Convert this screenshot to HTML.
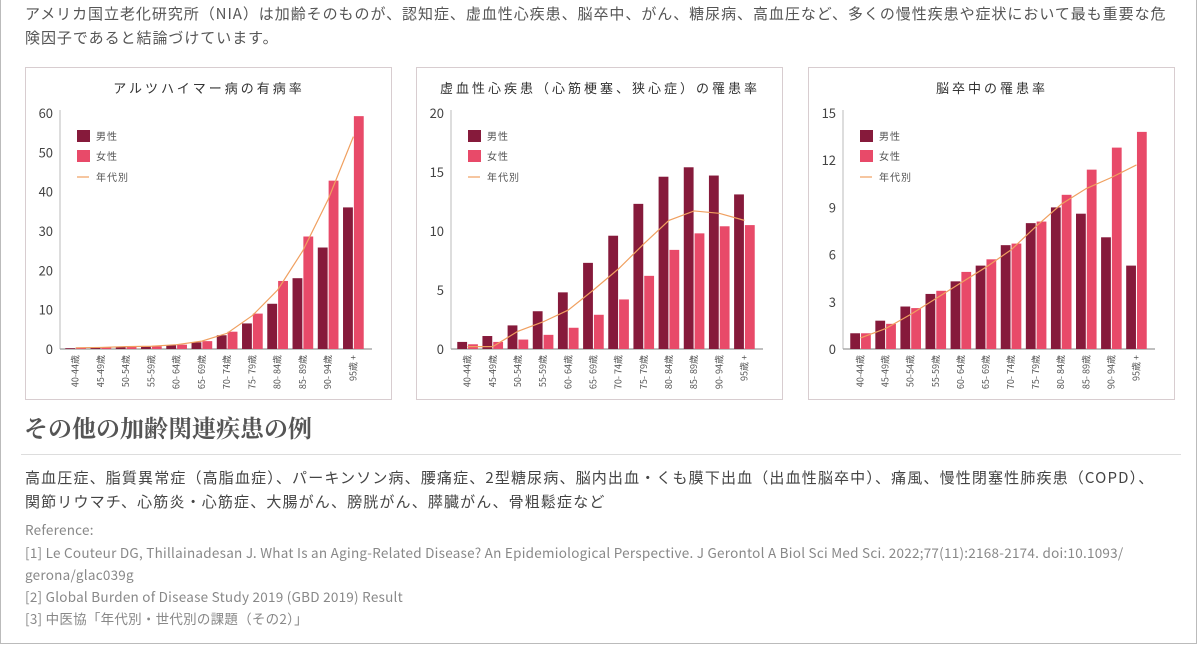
<!DOCTYPE html>
<html><head><meta charset="utf-8"><style>
body{margin:0;width:1200px;height:647px;background:#fff;font-family:"Noto Sans CJK JP","Liberation Sans",sans-serif;color:#444;position:relative;overflow:hidden}
.frame{position:absolute;left:0;top:-2px;width:1197px;height:646px;border:1px solid #bbb;box-sizing:border-box}
.t{position:absolute;left:25px;font-size:15px;line-height:20px;color:#555;white-space:nowrap;letter-spacing:0.95px}
.panel{position:absolute;top:67px;width:367px;height:333px;border:1px solid #d8cdd0;box-sizing:border-box}
.ref{position:absolute;left:25px;font-size:13.5px;line-height:18px;color:#888;white-space:nowrap;letter-spacing:0.25px}
svg text{font-family:"Noto Sans CJK JP","Liberation Sans",sans-serif}
</style></head><body>
<div class="frame"></div>
<div class="t" style="top:4px">アメリカ国立老化研究所（NIA）は加齢そのものが、認知症、虚血性心疾患、脳卒中、がん、糖尿病、高血圧など、多くの慢性疾患や症状において最も重要な危</div>
<div class="t" style="top:28px">険因子であると結論づけています。</div>
<div class="panel" style="left:25px"></div>
<div class="panel" style="left:416px"></div>
<div class="panel" style="left:808px"></div>
<svg id="charts" width="1200" height="400" style="position:absolute;left:0;top:0"></svg>
<div style="position:absolute;left:24px;top:415px;font-family:'Liberation Serif','Noto Serif CJK SC',serif;font-size:24px;line-height:30px;font-weight:bold;color:#555">その他の加齢関連疾患の例</div>
<div style="position:absolute;left:21px;top:454px;width:1160px;height:1px;background:#ddd"></div>
<div class="t" style="top:468px;color:#444;letter-spacing:1.15px">高血圧症、脂質異常症（高脂血症）、パーキンソン病、腰痛症、2型糖尿病、脳内出血・くも膜下出血（出血性脳卒中）、痛風、慢性閉塞性肺疾患（COPD）、</div>
<div class="t" style="top:492px;color:#444;letter-spacing:1.15px">関節リウマチ、心筋炎・心筋症、大腸がん、膀胱がん、膵臓がん、骨粗鬆症など</div>
<div class="ref" style="top:520px">Reference:</div>
<div class="ref" style="top:543px">[1] Le Couteur DG, Thillainadesan J. What Is an Aging-Related Disease? An Epidemiological Perspective. J Gerontol A Biol Sci Med Sci. 2022;77(11):2168-2174. doi:10.1093/</div>
<div class="ref" style="top:565px">gerona/glac039g</div>
<div class="ref" style="top:587px">[2] Global Burden of Disease Study 2019 (GBD 2019) Result</div>
<div class="ref" style="top:609px">[3] 中医協「年代別・世代別の課題（その2）」</div>
<script>
const categories=["40-44歳","45-49歳","50-54歳","55-59歳","60- 64歳","65- 69歳","70- 74歳","75- 79歳","80- 84歳","85- 89歳","90- 94歳","95歳 +"];
const alzMen=[0.2,0.3,0.5,0.7,1.0,1.7,3.5,6.5,11.5,18,25.8,36];
const alzWomen=[0.3,0.4,0.5,0.7,1.1,2.0,4.4,9.0,17.3,28.6,42.8,59.2];
const alzAll=[0.3,0.4,0.6,0.7,1.1,2.0,4.0,8.5,15,25,38,54];
const alzTicks=[0,10,20,30,40,50,60];
const ihdMen=[0.6,1.1,2.0,3.2,4.8,7.3,9.6,12.3,14.6,15.4,14.7,13.1];
const ihdWomen=[0.4,0.6,0.8,1.2,1.8,2.9,4.2,6.2,8.4,9.8,10.4,10.5];
const ihdAll=[0.2,0.2,1.5,2.3,3.3,5.0,6.8,8.9,10.9,11.7,11.5,10.9];
const ihdTicks=[0,5,10,15,20];
const strokeMen=[1.0,1.8,2.7,3.5,4.3,5.3,6.6,8.0,9.0,8.6,7.1,5.3];
const strokeWomen=[1.0,1.6,2.6,3.7,4.9,5.7,6.7,8.1,9.8,11.4,12.8,13.8];
const strokeAll=[0.7,1.3,2.2,3.2,4.2,5.2,6.3,7.8,9.2,10.2,10.9,11.7];
const strokeTicks=[0,3,6,9,12,15];
const titles=["アルツハイマー病の有病率","虚血性心疾患（心筋梗塞、狭心症）の罹患率","脳卒中の罹患率"];
const svg=document.getElementById('charts');
const NS='http://www.w3.org/2000/svg';
function mk(tag,at,txt){const e=document.createElementNS(NS,tag);for(const k in at)e.setAttribute(k,at[k]);if(txt!==undefined)e.textContent=txt;svg.appendChild(e);return e;}
function chart(px,ax,b0,b1,men,women,all,ticks,title,key){
  const max=ticks[ticks.length-1],y0=349,yt=113;
  const y=v=>y0-(v/max)*(y0-yt);
  const gw=(b1-b0)/categories.length;
  const x=i=>b0+i*gw;
  let e=mk('text',{x:px+184,y:93,'text-anchor':'middle','font-size':13,fill:'#333','letter-spacing':3},title);
  
  e=mk('line',{x1:ax,y1:yt-3,x2:ax,y2:y0,stroke:'#bbb','stroke-width':1});
  
  e=mk('line',{x1:ax,y1:y0,x2:b1+6,y2:y0,stroke:'#aaa','stroke-width':1.5});
  
  ticks.forEach(t=>{e=mk('text',{x:ax-7,y:y(t)+5,'text-anchor':'end','font-size':13,fill:'#444'},t);
    });
  const bw=gw*0.39;
  categories.forEach((c,i)=>{
    const cx=x(i)+gw/2;
    e=mk('rect',{x:cx-bw-0.5,y:y(men[i]),width:bw,height:y0-y(men[i]),fill:'#861a3b'});
    
    e=mk('rect',{x:cx+0.5,y:y(women[i]),width:bw,height:y0-y(women[i]),fill:'#e84a69'});
    
    e=mk('text',{transform:`translate(${cx+3},${y0+6}) rotate(-90)`,'text-anchor':'end','font-size':9,fill:'#555'},c);
    
  });
  let d='';all.forEach((v,i)=>{d+=(i?'L':'M')+(x(i)+gw/2)+','+y(v);});
  e=mk('path',{d:d,fill:'none',stroke:'#f0a060','stroke-width':1.2});
  
  const lx=ax+17;
  e=mk('rect',{x:lx,y:130,width:13,height:12,fill:'#861a3b'});
  
  e=mk('text',{x:lx+19,y:140,'font-size':10,fill:'#555','letter-spacing':1},'男性');
  
  e=mk('rect',{x:lx,y:150,width:13,height:12,fill:'#e84a69'});
  
  e=mk('text',{x:lx+19,y:160,'font-size':10,fill:'#555','letter-spacing':1},'女性');
  
  e=mk('line',{x1:lx,y1:177,x2:lx+12,y2:177,stroke:'#f0a060','stroke-width':1.2});
  
  e=mk('text',{x:lx+19,y:181,'font-size':10,fill:'#555','letter-spacing':1},'年代別');
  
}
chart(25,60,63,366,alzMen,alzWomen,alzAll,alzTicks,titles[0],'alzheimer');
chart(416,451,455,757,ihdMen,ihdWomen,ihdAll,ihdTicks,titles[1],'ihd');
chart(808,843,848,1149,strokeMen,strokeWomen,strokeAll,strokeTicks,titles[2],'stroke');
</script>
</body></html>
